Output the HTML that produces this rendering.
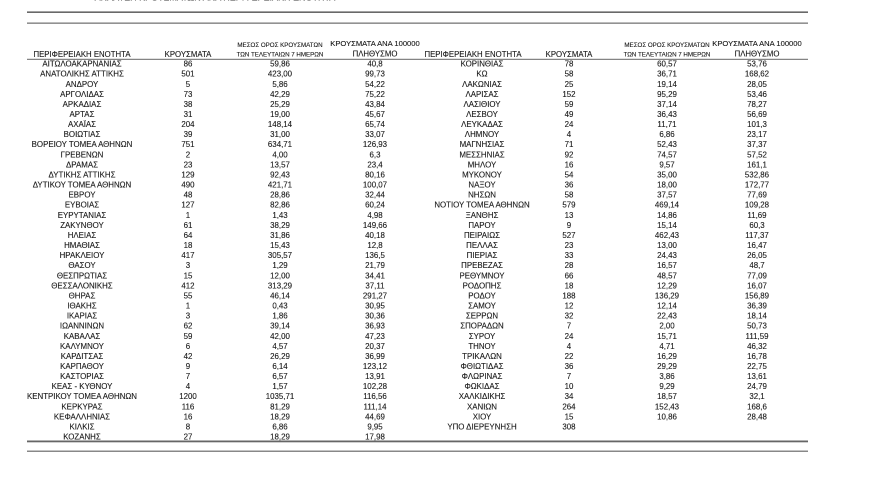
<!DOCTYPE html>
<html><head><meta charset="utf-8"><style>
html,body{margin:0;padding:0;background:#fff;width:895px;height:480px;overflow:hidden}
svg{display:block}
text{font-family:"Liberation Sans Narrow","Liberation Sans","DejaVu Sans Condensed",sans-serif;font-size:7.9px;fill:#1a1a1a;text-anchor:middle;stroke:#1a1a1a;stroke-width:0.12}
.h{font-size:7.8px}
.s{font-size:6.2px}
.b{font-size:7.6px}
</style></head><body>
<svg width="895" height="480" viewBox="0 0 895 480">
<text x="215" y="0.5" style="font-size:9px;fill:#333">ΑΝΑΛΥΣΗ ΚΡΟΥΣΜΑΤΩΝ ΑΝΑ ΠΕΡΙΦΕΡΕΙΑΚΗ ΕΝΟΤΗΤΑ</text>
<rect x="27" y="11.5" width="781" height="1.3" fill="#444"/>
<rect x="27" y="22.5" width="781" height="1.3" fill="#777"/>
<rect x="27" y="58.8" width="781" height="1" fill="#666"/>
<rect x="27" y="440.5" width="781" height="1.8" fill="#666"/>
<rect x="27" y="450.5" width="781" height="1.5" fill="#888"/>
<g>
<text class="h" x="82" y="57">ΠΕΡΙΦΕΡΕΙΑΚΗ ΕΝΟΤΗΤΑ</text>
<text class="h" x="188" y="57">ΚΡΟΥΣΜΑΤΑ</text>
<text class="s" x="280" y="47">ΜΕΣΟΣ ΟΡΟΣ ΚΡΟΥΣΜΑΤΩΝ</text>
<text class="s" x="280" y="56.5">ΤΩΝ ΤΕΛΕΥΤΑΙΩΝ 7 ΗΜΕΡΩΝ</text>
<text class="b" x="375" y="46">ΚΡΟΥΣΜΑΤΑ ΑΝΑ 100000</text>
<text class="h" x="375" y="56.5">ΠΛΗΘΥΣΜΟ</text>
<text class="h" x="473" y="57">ΠΕΡΙΦΕΡΕΙΑΚΗ ΕΝΟΤΗΤΑ</text>
<text class="h" x="569" y="57">ΚΡΟΥΣΜΑΤΑ</text>
<text class="s" x="667" y="47">ΜΕΣΟΣ ΟΡΟΣ ΚΡΟΥΣΜΑΤΩΝ</text>
<text class="s" x="667" y="56.5">ΤΩΝ ΤΕΛΕΥΤΑΙΩΝ 7 ΗΜΕΡΩΝ</text>
<text class="b" x="757" y="46">ΚΡΟΥΣΜΑΤΑ ΑΝΑ 100000</text>
<text class="h" x="757" y="56.5">ΠΛΗΘΥΣΜΟ</text>
</g>
<g transform="translate(0,66.6)"><text x="82">ΑΙΤΩΛΟΑΚΑΡΝΑΝΙΑΣ</text><text x="188">86</text><text x="280">59,86</text><text x="375">40,8</text><text x="482">ΚΟΡΙΝΘΙΑΣ</text><text x="569">78</text><text x="667">60,57</text><text x="757">53,76</text></g>
<g transform="translate(0,76.7)"><text x="82">ΑΝΑΤΟΛΙΚΗΣ ΑΤΤΙΚΗΣ</text><text x="188">501</text><text x="280">423,00</text><text x="375">99,73</text><text x="482">ΚΩ</text><text x="569">58</text><text x="667">36,71</text><text x="757">168,62</text></g>
<g transform="translate(0,86.8)"><text x="82">ΑΝΔΡΟΥ</text><text x="188">5</text><text x="280">5,86</text><text x="375">54,22</text><text x="482">ΛΑΚΩΝΙΑΣ</text><text x="569">25</text><text x="667">19,14</text><text x="757">28,05</text></g>
<g transform="translate(0,96.8)"><text x="82">ΑΡΓΟΛΙΔΑΣ</text><text x="188">73</text><text x="280">42,29</text><text x="375">75,22</text><text x="482">ΛΑΡΙΣΑΣ</text><text x="569">152</text><text x="667">95,29</text><text x="757">53,46</text></g>
<g transform="translate(0,106.9)"><text x="82">ΑΡΚΑΔΙΑΣ</text><text x="188">38</text><text x="280">25,29</text><text x="375">43,84</text><text x="482">ΛΑΣΙΘΙΟΥ</text><text x="569">59</text><text x="667">37,14</text><text x="757">78,27</text></g>
<g transform="translate(0,117.0)"><text x="82">ΑΡΤΑΣ</text><text x="188">31</text><text x="280">19,00</text><text x="375">45,67</text><text x="482">ΛΕΣΒΟΥ</text><text x="569">49</text><text x="667">36,43</text><text x="757">56,69</text></g>
<g transform="translate(0,127.1)"><text x="82">ΑΧΑΪΑΣ</text><text x="188">204</text><text x="280">148,14</text><text x="375">65,74</text><text x="482">ΛΕΥΚΑΔΑΣ</text><text x="569">24</text><text x="667">11,71</text><text x="757">101,3</text></g>
<g transform="translate(0,137.2)"><text x="82">ΒΟΙΩΤΙΑΣ</text><text x="188">39</text><text x="280">31,00</text><text x="375">33,07</text><text x="482">ΛΗΜΝΟΥ</text><text x="569">4</text><text x="667">6,86</text><text x="757">23,17</text></g>
<g transform="translate(0,147.2)"><text x="82">ΒΟΡΕΙΟΥ ΤΟΜΕΑ ΑΘΗΝΩΝ</text><text x="188">751</text><text x="280">634,71</text><text x="375">126,93</text><text x="482">ΜΑΓΝΗΣΙΑΣ</text><text x="569">71</text><text x="667">52,43</text><text x="757">37,37</text></g>
<g transform="translate(0,157.3)"><text x="82">ΓΡΕΒΕΝΩΝ</text><text x="188">2</text><text x="280">4,00</text><text x="375">6,3</text><text x="482">ΜΕΣΣΗΝΙΑΣ</text><text x="569">92</text><text x="667">74,57</text><text x="757">57,52</text></g>
<g transform="translate(0,167.4)"><text x="82">ΔΡΑΜΑΣ</text><text x="188">23</text><text x="280">13,57</text><text x="375">23,4</text><text x="482">ΜΗΛΟΥ</text><text x="569">16</text><text x="667">9,57</text><text x="757">161,1</text></g>
<g transform="translate(0,177.5)"><text x="82">ΔΥΤΙΚΗΣ ΑΤΤΙΚΗΣ</text><text x="188">129</text><text x="280">92,43</text><text x="375">80,16</text><text x="482">ΜΥΚΟΝΟΥ</text><text x="569">54</text><text x="667">35,00</text><text x="757">532,86</text></g>
<g transform="translate(0,187.6)"><text x="82">ΔΥΤΙΚΟΥ ΤΟΜΕΑ ΑΘΗΝΩΝ</text><text x="188">490</text><text x="280">421,71</text><text x="375">100,07</text><text x="482">ΝΑΞΟΥ</text><text x="569">36</text><text x="667">18,00</text><text x="757">172,77</text></g>
<g transform="translate(0,197.6)"><text x="82">ΕΒΡΟΥ</text><text x="188">48</text><text x="280">28,86</text><text x="375">32,44</text><text x="482">ΝΗΣΩΝ</text><text x="569">58</text><text x="667">37,57</text><text x="757">77,69</text></g>
<g transform="translate(0,207.7)"><text x="82">ΕΥΒΟΙΑΣ</text><text x="188">127</text><text x="280">82,86</text><text x="375">60,24</text><text x="482">ΝΟΤΙΟΥ ΤΟΜΕΑ ΑΘΗΝΩΝ</text><text x="569">579</text><text x="667">469,14</text><text x="757">109,28</text></g>
<g transform="translate(0,217.8)"><text x="82">ΕΥΡΥΤΑΝΙΑΣ</text><text x="188">1</text><text x="280">1,43</text><text x="375">4,98</text><text x="482">ΞΑΝΘΗΣ</text><text x="569">13</text><text x="667">14,86</text><text x="757">11,69</text></g>
<g transform="translate(0,227.9)"><text x="82">ΖΑΚΥΝΘΟΥ</text><text x="188">61</text><text x="280">38,29</text><text x="375">149,66</text><text x="482">ΠΑΡΟΥ</text><text x="569">9</text><text x="667">15,14</text><text x="757">60,3</text></g>
<g transform="translate(0,238.0)"><text x="82">ΗΛΕΙΑΣ</text><text x="188">64</text><text x="280">31,86</text><text x="375">40,18</text><text x="482">ΠΕΙΡΑΙΩΣ</text><text x="569">527</text><text x="667">462,43</text><text x="757">117,37</text></g>
<g transform="translate(0,248.0)"><text x="82">ΗΜΑΘΙΑΣ</text><text x="188">18</text><text x="280">15,43</text><text x="375">12,8</text><text x="482">ΠΕΛΛΑΣ</text><text x="569">23</text><text x="667">13,00</text><text x="757">16,47</text></g>
<g transform="translate(0,258.1)"><text x="82">ΗΡΑΚΛΕΙΟΥ</text><text x="188">417</text><text x="280">305,57</text><text x="375">136,5</text><text x="482">ΠΙΕΡΙΑΣ</text><text x="569">33</text><text x="667">24,43</text><text x="757">26,05</text></g>
<g transform="translate(0,268.2)"><text x="82">ΘΑΣΟΥ</text><text x="188">3</text><text x="280">1,29</text><text x="375">21,79</text><text x="482">ΠΡΕΒΕΖΑΣ</text><text x="569">28</text><text x="667">16,57</text><text x="757">48,7</text></g>
<g transform="translate(0,278.3)"><text x="82">ΘΕΣΠΡΩΤΙΑΣ</text><text x="188">15</text><text x="280">12,00</text><text x="375">34,41</text><text x="482">ΡΕΘΥΜΝΟΥ</text><text x="569">66</text><text x="667">48,57</text><text x="757">77,09</text></g>
<g transform="translate(0,288.4)"><text x="82">ΘΕΣΣΑΛΟΝΙΚΗΣ</text><text x="188">412</text><text x="280">313,29</text><text x="375">37,11</text><text x="482">ΡΟΔΟΠΗΣ</text><text x="569">18</text><text x="667">12,29</text><text x="757">16,07</text></g>
<g transform="translate(0,298.4)"><text x="82">ΘΗΡΑΣ</text><text x="188">55</text><text x="280">46,14</text><text x="375">291,27</text><text x="482">ΡΟΔΟΥ</text><text x="569">188</text><text x="667">136,29</text><text x="757">156,89</text></g>
<g transform="translate(0,308.5)"><text x="82">ΙΘΑΚΗΣ</text><text x="188">1</text><text x="280">0,43</text><text x="375">30,95</text><text x="482">ΣΑΜΟΥ</text><text x="569">12</text><text x="667">12,14</text><text x="757">36,39</text></g>
<g transform="translate(0,318.6)"><text x="82">ΙΚΑΡΙΑΣ</text><text x="188">3</text><text x="280">1,86</text><text x="375">30,36</text><text x="482">ΣΕΡΡΩΝ</text><text x="569">32</text><text x="667">22,43</text><text x="757">18,14</text></g>
<g transform="translate(0,328.7)"><text x="82">ΙΩΑΝΝΙΝΩΝ</text><text x="188">62</text><text x="280">39,14</text><text x="375">36,93</text><text x="482">ΣΠΟΡΑΔΩΝ</text><text x="569">7</text><text x="667">2,00</text><text x="757">50,73</text></g>
<g transform="translate(0,338.8)"><text x="82">ΚΑΒΑΛΑΣ</text><text x="188">59</text><text x="280">42,00</text><text x="375">47,23</text><text x="482">ΣΥΡΟΥ</text><text x="569">24</text><text x="667">15,71</text><text x="757">111,59</text></g>
<g transform="translate(0,348.8)"><text x="82">ΚΑΛΥΜΝΟΥ</text><text x="188">6</text><text x="280">4,57</text><text x="375">20,37</text><text x="482">ΤΗΝΟΥ</text><text x="569">4</text><text x="667">4,71</text><text x="757">46,32</text></g>
<g transform="translate(0,358.9)"><text x="82">ΚΑΡΔΙΤΣΑΣ</text><text x="188">42</text><text x="280">26,29</text><text x="375">36,99</text><text x="482">ΤΡΙΚΑΛΩΝ</text><text x="569">22</text><text x="667">16,29</text><text x="757">16,78</text></g>
<g transform="translate(0,369.0)"><text x="82">ΚΑΡΠΑΘΟΥ</text><text x="188">9</text><text x="280">6,14</text><text x="375">123,12</text><text x="482">ΦΘΙΩΤΙΔΑΣ</text><text x="569">36</text><text x="667">29,29</text><text x="757">22,75</text></g>
<g transform="translate(0,379.1)"><text x="82">ΚΑΣΤΟΡΙΑΣ</text><text x="188">7</text><text x="280">6,57</text><text x="375">13,91</text><text x="482">ΦΛΩΡΙΝΑΣ</text><text x="569">7</text><text x="667">3,86</text><text x="757">13,61</text></g>
<g transform="translate(0,389.2)"><text x="82">ΚΕΑΣ - ΚΥΘΝΟΥ</text><text x="188">4</text><text x="280">1,57</text><text x="375">102,28</text><text x="482">ΦΩΚΙΔΑΣ</text><text x="569">10</text><text x="667">9,29</text><text x="757">24,79</text></g>
<g transform="translate(0,399.2)"><text x="82">ΚΕΝΤΡΙΚΟΥ ΤΟΜΕΑ ΑΘΗΝΩΝ</text><text x="188">1200</text><text x="280">1035,71</text><text x="375">116,56</text><text x="482">ΧΑΛΚΙΔΙΚΗΣ</text><text x="569">34</text><text x="667">18,57</text><text x="757">32,1</text></g>
<g transform="translate(0,409.3)"><text x="82">ΚΕΡΚΥΡΑΣ</text><text x="188">116</text><text x="280">81,29</text><text x="375">111,14</text><text x="482">ΧΑΝΙΩΝ</text><text x="569">264</text><text x="667">152,43</text><text x="757">168,6</text></g>
<g transform="translate(0,419.4)"><text x="82">ΚΕΦΑΛΛΗΝΙΑΣ</text><text x="188">16</text><text x="280">18,29</text><text x="375">44,69</text><text x="482">ΧΙΟΥ</text><text x="569">15</text><text x="667">10,86</text><text x="757">28,48</text></g>
<g transform="translate(0,429.5)"><text x="82">ΚΙΛΚΙΣ</text><text x="188">8</text><text x="280">6,86</text><text x="375">9,95</text><text x="482">ΥΠΟ ΔΙΕΡΕΥΝΗΣΗ</text><text x="569">308</text></g>
<g transform="translate(0,439.3)"><text x="82">ΚΟΖΑΝΗΣ</text><text x="188">27</text><text x="280">18,29</text><text x="375">17,98</text></g>
</svg>
</body></html>
